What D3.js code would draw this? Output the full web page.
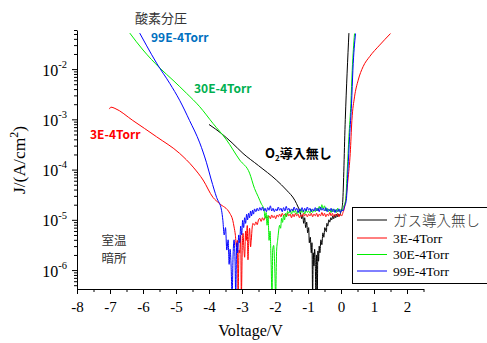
<!DOCTYPE html>
<html>
<head>
<meta charset="utf-8">
<script src="https://cdn.jsdelivr.net/npm/d3@7"></script>
<style>
  body { margin: 0; background: #fff; }
  svg { display: block; }
</style>
</head>
<body>
<svg id="chart" width="487" height="343"></svg>
<script>
// I-V curves, [voltage (V), current density (A/cm2)]
const noGas = [
  [-4.00, 7.9e-4], [-3.80, 6.4e-4], [-3.62, 5.2e-4], [-3.30, 3.4e-4], [-2.97, 2.1e-4],
  [-2.50, 1.2e-4], [-1.96, 6.2e-5], [-1.65, 3.9e-5], [-1.40, 2.45e-5], [-1.30, 1.8e-5],
  [-1.25, 1.5e-5], [-1.22, 1.3e-5], [-1.19, 1.05e-5], [-1.16, 1.25e-5], [-1.13, 8.5e-6],
  [-1.10, 1.1e-5], [-1.07, 7e-6], [-1.04, 9e-6], [-1.01, 5.5e-6], [-0.98, 7e-6],
  [-0.96, 3.5e-6], [-0.93, 4.5e-6], [-0.90, 2.2e-6], [-0.88, 3.5e-6], [-0.86, 3e-7],
  [-0.84, 2.2e-6], [-0.82, 1.2e-6], [-0.80, 2.6e-6], [-0.78, 1.4e-6], [-0.76, 3e-7],
  [-0.74, 2e-6], [-0.72, 3e-7], [-0.70, 2.4e-6], [-0.68, 1.5e-6], [-0.66, 3e-6],
  [-0.64, 2.2e-6], [-0.61, 4e-6], [-0.58, 3.2e-6], [-0.55, 5.5e-6], [-0.52, 4.5e-6],
  [-0.49, 7e-6], [-0.46, 6e-6], [-0.44, 5.8e-6], [-0.43, 8.5e-6], [-0.40, 7.5e-6],
  [-0.37, 1e-5], [-0.34, 9e-6], [-0.31, 1.1e-5], [-0.28, 1.0e-5], [-0.25, 1.2e-5],
  [-0.22, 1.05e-5], [-0.19, 1.25e-5], [-0.16, 1.1e-5], [-0.13, 1.3e-5], [-0.10, 1.15e-5],
  [-0.07, 1.3e-5], [-0.04, 1.2e-5], [-0.01, 1.4e-5], [0.02, 1.6e-5], [0.05, 2.2e-5],
  [0.13, 1.0e-3], [0.24, 5.2e-2]
];

const torr3 = [
  [-7.02, 1.6e-3], [-6.97, 1.75e-3], [-6.85, 1.65e-3], [-6.31, 9.5e-4], [-5.59, 4.5e-4],
  [-4.89, 2.1e-4], [-4.48, 1.12e-4], [-4.18, 6.2e-5], [-3.88, 2.8e-5],
  [-3.68, 2.1e-5], [-3.37, 1.35e-5], [-3.28, 9.8e-6], [-3.24, 7.2e-6], [-3.20, 4.9e-6],
  [-3.17, 2.9e-6], [-3.14, 3.9e-6], [-3.12, 3e-7], [-3.09, 2.5e-6], [-3.07, 2.2e-6],
  [-3.04, 4.9e-6], [-3.02, 3e-7], [-2.99, 3.1e-6], [-2.97, 5.4e-6], [-2.94, 2.5e-6],
  [-2.92, 1.8e-6], [-2.89, 6e-6], [-2.87, 3.9e-6], [-2.84, 7.7e-6], [-2.82, 1.6e-6],
  [-2.79, 4.9e-6], [-2.77, 6.8e-6], [-2.74, 2.9e-6], [-2.72, 3.9e-6], [-2.69, 7.2e-6],
  [-2.67, 8.5e-6], [-2.62, 7.8e-6], [-2.58, 9.1e-6], [-2.54, 8e-6], [-2.50, 1.0e-5],
  [-2.46, 1.07e-5], [-2.42, 9.3e-6], [-2.38, 1.1e-5], [-2.34, 9.8e-6], [-2.30, 1.12e-5],
  [-2.26, 1.15e-5], [-2.22, 1.1e-5], [-2.18, 1.2e-5], [-2.14, 1.05e-5], [-2.10, 1.25e-5],
  [-2.06, 1.1e-5], [-2.02, 1.2e-5], [-1.98, 1.05e-5], [-1.94, 1.25e-5], [-1.90, 1.15e-5],
  [-1.86, 1.3e-5], [-1.82, 1.15e-5], [-1.78, 1.35e-5], [-1.74, 1.2e-5], [-1.70, 1.3e-5],
  [-1.66, 1.15e-5], [-1.62, 1.35e-5], [-1.58, 1.2e-5], [-1.54, 1.3e-5], [-1.50, 1.1e-5],
  [-1.46, 1.3e-5], [-1.42, 1.15e-5], [-1.38, 1.35e-5], [-1.34, 1.2e-5], [-1.30, 1.3e-5],
  [-1.26, 1.1e-5], [-1.22, 1.25e-5], [-1.18, 1.15e-5], [-1.14, 1.35e-5], [-1.10, 1.2e-5],
  [-1.06, 1.3e-5], [-1.02, 1.15e-5], [-0.98, 1.3e-5], [-0.94, 1.2e-5], [-0.90, 1.35e-5],
  [-0.86, 1.15e-5], [-0.82, 1.3e-5], [-0.78, 1.2e-5], [-0.74, 1.35e-5], [-0.70, 1.15e-5],
  [-0.66, 1.3e-5], [-0.62, 1.2e-5], [-0.58, 1.4e-5], [-0.54, 1.2e-5], [-0.50, 1.35e-5],
  [-0.46, 1.15e-5], [-0.42, 1.3e-5], [-0.38, 1.2e-5], [-0.34, 1.4e-5], [-0.30, 1.2e-5],
  [-0.26, 1.35e-5], [-0.22, 1.15e-5], [-0.18, 1.3e-5], [-0.14, 1.2e-5], [-0.10, 1.35e-5],
  [-0.06, 1.15e-5], [-0.02, 1.3e-5], [0.02, 1.2e-5], [0.06, 1.4e-5], [0.11, 1.8e-5],
  [0.21, 6.2e-5], [0.28, 2.1e-4], [0.33, 9.5e-4], [0.41, 2.8e-3], [0.52, 6.0e-3],
  [0.67, 1.12e-2], [0.87, 1.78e-2], [1.17, 3.0e-2], [1.50, 5.1e-2]
];

const torr30 = [
  [-6.40, 5.2e-2], [-6.00, 2.4e-2], [-5.49, 1.05e-2], [-5.09, 6.0e-3], [-4.68, 3.3e-3],
  [-4.28, 1.78e-3], [-3.88, 8.3e-4], [-3.47, 3.9e-4], [-3.07, 1.55e-4], [-2.77, 8.5e-5],
  [-2.62, 4.2e-5], [-2.51, 2.9e-5], [-2.41, 2.05e-5], [-2.36, 1.8e-5],
  [-2.33, 1.55e-5], [-2.30, 1.07e-5], [-2.27, 1.4e-5], [-2.24, 7.8e-6], [-2.21, 1.23e-5],
  [-2.18, 3.9e-6], [-2.15, 6e-6], [-2.12, 1.6e-6], [-2.09, 3e-7], [-2.07, 2.5e-6],
  [-2.04, 3.1e-6], [-2.01, 1.26e-6], [-1.98, 3e-7], [-1.95, 2.5e-6], [-1.92, 3.9e-6],
  [-1.89, 6e-6], [-1.86, 7.8e-6], [-1.83, 6.8e-6], [-1.80, 1.07e-5], [-1.77, 8.9e-6],
  [-1.74, 1.23e-5], [-1.71, 1.0e-5], [-1.68, 1.35e-5], [-1.65, 1.15e-5], [-1.62, 1.48e-5],
  [-1.58, 1.35e-5], [-1.54, 1.55e-5], [-1.50, 1.3e-5], [-1.46, 1.6e-5], [-1.42, 1.4e-5],
  [-1.38, 1.55e-5], [-1.34, 1.3e-5], [-1.30, 1.5e-5], [-1.26, 1.35e-5], [-1.22, 1.65e-5],
  [-1.18, 1.4e-5], [-1.14, 1.55e-5], [-1.10, 1.3e-5], [-1.06, 1.6e-5], [-1.02, 1.4e-5],
  [-0.98, 1.5e-5], [-0.94, 1.35e-5], [-0.90, 1.6e-5], [-0.86, 1.4e-5], [-0.82, 1.55e-5],
  [-0.78, 1.45e-5], [-0.74, 1.7e-5], [-0.70, 1.5e-5], [-0.66, 1.85e-5], [-0.62, 1.6e-5],
  [-0.58, 2.0e-5], [-0.54, 1.65e-5], [-0.50, 1.9e-5], [-0.46, 1.5e-5], [-0.42, 1.7e-5],
  [-0.38, 1.45e-5], [-0.34, 1.6e-5], [-0.30, 1.4e-5], [-0.26, 1.65e-5], [-0.22, 1.45e-5],
  [-0.18, 1.6e-5], [-0.14, 1.4e-5], [-0.10, 1.7e-5], [-0.06, 1.45e-5], [-0.02, 1.6e-5],
  [0.02, 1.5e-5], [0.06, 1.75e-5], [0.14, 2.45e-5], [0.19, 9.8e-5], [0.24, 4.5e-4],
  [0.30, 2.1e-3], [0.34, 9.5e-3], [0.41, 5.1e-2]
];

const torr99 = [
  [-6.10, 5.2e-2], [-5.90, 3.0e-2], [-5.59, 1.32e-2], [-5.19, 5.2e-3], [-4.89, 2.4e-3],
  [-4.59, 9.5e-4], [-4.28, 3.4e-4], [-4.08, 1.4e-4], [-3.93, 6.2e-5], [-3.77, 2.8e-5],
  [-3.62, 1.55e-5], [-3.58, 9.8e-6], [-3.54, 5e-6], [-3.50, 7e-6], [-3.46, 2.5e-6],
  [-3.42, 4e-6], [-3.39, 1.3e-6], [-3.36, 2.6e-6], [-3.33, 1.2e-6], [-3.30, 3e-7],
  [-3.27, 2e-6], [-3.24, 4e-6], [-3.21, 1.5e-6], [-3.19, 3e-7], [-3.16, 3.5e-6],
  [-3.13, 2.2e-6], [-3.10, 5e-6], [-3.07, 3.5e-6], [-3.04, 7.5e-6], [-3.01, 5e-6],
  [-2.98, 9.8e-6], [-2.95, 7e-6], [-2.92, 1.1e-5], [-2.89, 8.5e-6], [-2.86, 1.29e-5],
  [-2.83, 1.0e-5], [-2.80, 1.35e-5], [-2.77, 1.1e-5], [-2.74, 1.5e-5], [-2.71, 1.2e-5],
  [-2.68, 1.55e-5], [-2.65, 1.3e-5], [-2.62, 1.65e-5], [-2.58, 1.45e-5], [-2.54, 1.7e-5],
  [-2.50, 1.5e-5], [-2.46, 1.75e-5], [-2.42, 1.55e-5], [-2.38, 1.8e-5], [-2.34, 1.5e-5],
  [-2.30, 1.7e-5], [-2.26, 1.45e-5], [-2.22, 1.75e-5], [-2.18, 1.55e-5], [-2.14, 1.9e-5],
  [-2.10, 1.5e-5], [-2.06, 1.7e-5], [-2.02, 1.45e-5], [-1.98, 1.65e-5], [-1.94, 1.5e-5],
  [-1.90, 1.8e-5], [-1.86, 1.55e-5], [-1.82, 1.7e-5], [-1.78, 1.45e-5], [-1.74, 1.75e-5],
  [-1.70, 1.5e-5], [-1.66, 1.85e-5], [-1.62, 1.55e-5], [-1.58, 1.7e-5], [-1.54, 1.45e-5],
  [-1.50, 1.65e-5], [-1.46, 1.5e-5], [-1.42, 1.8e-5], [-1.38, 1.55e-5], [-1.34, 1.7e-5],
  [-1.30, 1.4e-5], [-1.26, 1.65e-5], [-1.22, 1.5e-5], [-1.18, 1.75e-5], [-1.14, 1.45e-5],
  [-1.10, 1.7e-5], [-1.06, 1.5e-5], [-1.02, 1.8e-5], [-0.98, 1.55e-5], [-0.94, 1.7e-5],
  [-0.90, 1.45e-5], [-0.86, 1.65e-5], [-0.82, 1.5e-5], [-0.78, 1.75e-5], [-0.74, 1.5e-5],
  [-0.70, 1.7e-5], [-0.66, 1.45e-5], [-0.62, 1.8e-5], [-0.58, 1.55e-5], [-0.54, 1.7e-5],
  [-0.50, 1.5e-5], [-0.46, 1.75e-5], [-0.42, 1.45e-5], [-0.38, 1.65e-5], [-0.34, 1.5e-5],
  [-0.30, 1.7e-5], [-0.26, 1.45e-5], [-0.22, 1.65e-5], [-0.18, 1.4e-5], [-0.14, 1.6e-5],
  [-0.10, 1.45e-5], [-0.06, 1.65e-5], [-0.02, 1.4e-5], [0.02, 1.6e-5], [0.06, 1.5e-5],
  [0.10, 1.8e-5], [0.16, 2.45e-5], [0.21, 9.8e-5], [0.26, 4.5e-4], [0.32, 2.1e-3],
  [0.36, 9.5e-3], [0.44, 5.1e-2]
];

const seriesNames = ["ガス導入無し", "3E-4Torr", "30E-4Torr", "99E-4Torr"];
const seriesColors = ["#000000", "#ff0000", "#00ee00", "#0000ff"];
const xTicks = [-8, -7, -6, -5, -4, -3, -2, -1, 0, 1, 2];
const yExponents = [-6, -5, -4, -3, -2];

const svg = d3.select("#chart");
const serif = "'Liberation Serif', 'Times New Roman', serif";
const jp = "'Noto Sans CJK JP', 'Noto Sans', sans-serif";

const x = d3.scaleLinear().domain([-8, 2.5]).range([77, 423.5]);
const y = d3.scaleLog().domain([4.2e-7, 0.06]).range([289, 30]);

svg.append("clipPath").attr("id", "plot-clip")
  .append("rect")
  .attr("x", x(-8)).attr("y", y(0.06))
  .attr("width", x(2.5) - x(-8)).attr("height", y(4.2e-7) - y(0.06));

// curves
const line = d3.line().x(d => x(d[0])).y(d => y(d[1])).curve(d3.curveMonotoneX);
const curves = svg.append("g").attr("clip-path", "url(#plot-clip)");
[noGas, torr3, torr30, torr99].forEach((data, i) => {
  curves.append("path")
    .datum(data)
    .attr("fill", "none")
    .attr("stroke", seriesColors[i])
    .attr("stroke-width", 1)
    .attr("stroke-linejoin", "round")
    .attr("d", line);
});

// x axis
const xMinor = d3.range(-7.5, 3, 1);
svg.append("g")
  .attr("transform", `translate(0,${y(4.2e-7)})`)
  .call(d3.axisBottom(x).tickValues(xMinor).tickSize(3).tickFormat(""))
  .call(g => g.select(".domain").remove());
svg.append("g")
  .attr("transform", `translate(0,${y(4.2e-7)})`)
  .call(d3.axisBottom(x).tickValues(xTicks).tickSize(5).tickSizeOuter(0).tickPadding(7)
    .tickFormat(d => String(d)))
  .call(g => g.selectAll("text").attr("font-family", serif).attr("font-size", 15).attr("fill", "#000"));

// y axis
const yMajor = yExponents.map(e => Math.pow(10, e));
const yMinor = [];
for (let e = -7; e <= -2; e++) {
  for (let m = 2; m <= 9; m++) {
    const v = m * Math.pow(10, e);
    if (v >= 4.2e-7 && v <= 0.06) yMinor.push(v);
  }
}
svg.append("g")
  .attr("transform", `translate(${x(-8)},0)`)
  .call(d3.axisLeft(y).tickValues(yMinor).tickSize(3).tickFormat(""))
  .call(g => g.select(".domain").remove());
svg.append("g")
  .attr("transform", `translate(${x(-8)},0)`)
  .call(d3.axisLeft(y).tickValues(yMajor).tickSize(5).tickSizeOuter(0).tickPadding(5).tickFormat(""))
  .call(g => g.selectAll(".tick text")
    .attr("font-family", serif).attr("font-size", 16).attr("fill", "#000")
    .attr("dy", "0.38em")
    .each(function(d, i) {
      const t = d3.select(this);
      t.append("tspan").text("10");
      t.append("tspan").attr("font-size", 10.5).attr("dy", "-0.75em").text(String(yExponents[i]));
    }));

// axis titles
svg.append("text")
  .attr("x", 250.5).attr("y", 336)
  .attr("text-anchor", "middle")
  .attr("font-family", serif).attr("font-size", 16)
  .text("Voltage/V");

const yTitle = svg.append("text")
  .attr("transform", "translate(25,160) rotate(-90)")
  .attr("text-anchor", "middle")
  .attr("font-family", serif).attr("font-size", 17.5);
yTitle.append("tspan").text("J/(A/cm");
yTitle.append("tspan").attr("font-size", 12).attr("dy", "-0.6em").text("2");
yTitle.append("tspan").attr("dy", "0.4em").text(")");

// annotations
const notes = svg.append("g").attr("font-family", jp);
notes.append("text").attr("x", 135).attr("y", 22.5).attr("font-size", 13).attr("fill", "#333").text("酸素分圧");
notes.append("text").attr("x", 151).attr("y", 42.3).attr("font-size", 12).attr("font-weight", "bold").attr("fill", "#0070c0").text("99E-4Torr");
notes.append("text").attr("x", 194).attr("y", 92.5).attr("font-size", 12).attr("font-weight", "bold").attr("fill", "#00b050").text("30E-4Torr");
notes.append("text").attr("x", 90).attr("y", 139.3).attr("font-size", 12).attr("font-weight", "bold").attr("fill", "#ff0000").text("3E-4Torr");
const o2 = notes.append("text").attr("x", 265).attr("y", 158).attr("font-size", 13).attr("font-weight", "bold").attr("fill", "#000");
o2.append("tspan").text("O");
o2.append("tspan").attr("font-size", 8).attr("dy", 3).text("2");
o2.append("tspan").attr("dy", -3).text("導入無し");
notes.append("text").attr("x", 101.5).attr("y", 244.8).attr("font-size", 12.5).attr("fill", "#333").text("室温");
notes.append("text").attr("x", 101.5).attr("y", 262.8).attr("font-size", 12.5).attr("fill", "#333").text("暗所");

// legend
const legend = svg.append("g").attr("transform", "translate(352,207)");
legend.append("rect")
  .attr("x", 0.5).attr("y", 0.5).attr("width", 140).attr("height", 76)
  .attr("fill", "#fff").attr("stroke", "#000").attr("stroke-width", 1);
const rowY = [13, 31, 47.5, 64];
seriesNames.forEach((name, i) => {
  legend.append("line")
    .attr("x1", 5).attr("x2", 35).attr("y1", rowY[i]).attr("y2", rowY[i])
    .attr("stroke", seriesColors[i]).attr("stroke-width", 1);
  legend.append("text")
    .attr("x", 41).attr("y", rowY[i] + (i === 0 ? 5.5 : 4.5))
    .attr("font-family", i === 0 ? jp : serif)
    .attr("font-size", i === 0 ? 14.5 : 13.5)
    .attr("font-weight", i === 0 ? 300 : "normal")
    .attr("fill", i === 0 ? "#333" : "#000")
    .text(name);
});
</script>
</body>
</html>
